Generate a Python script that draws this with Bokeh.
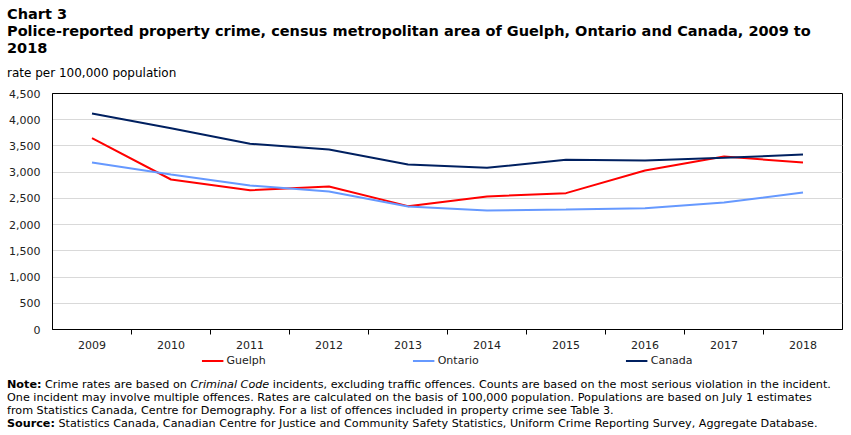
from bokeh.plotting import figure
from bokeh.models import (Div, Legend, LegendItem, FixedTicker, NumeralTickFormatter, Range1d)
from bokeh.layouts import column
from bokeh.embed import file_html
from bokeh.resources import INLINE

years = [2009, 2010, 2011, 2012, 2013, 2014, 2015, 2016, 2017, 2018]
guelph = [3648, 2860, 2657, 2727, 2352, 2536, 2600, 3032, 3299, 3184]
ontario = [3184, 2955, 2746, 2631, 2345, 2269, 2288, 2313, 2421, 2612]
canada = [4119, 3838, 3541, 3432, 3146, 3083, 3235, 3222, 3273, 3337]
y_ticks = [0, 500, 1000, 1500, 2000, 2500, 3000, 3500, 4000, 4500]
series_names = ["Guelph", "Ontario", "Canada"]
series_colors = ["#ff0000", "#6699ff", "#002060"]

FONT = "DejaVu Sans"

title_html = (
    f'<div style="font-family:\'{FONT}\';color:#000;white-space:nowrap;padding-left:7px;">'
    '<div style="font-weight:bold;font-size:14.5px;line-height:17px;padding-top:6px;">'
    'Chart 3<br>Police-reported property crime, census metropolitan area of Guelph, Ontario and Canada, 2009 to<br>2018</div>'
    '<div style="font-size:12px;margin-top:8px;">rate per 100,000 population</div></div>'
)
title_div = Div(text=title_html, width=851, height=80, margin=(0, 0, 0, 0))

p = figure(width=851, height=272, output_backend="svg", toolbar_location=None,
           x_range=Range1d(years[0] - 0.5, years[-1] + 0.5),
           y_range=Range1d(y_ticks[0], y_ticks[-1]),
           min_border_top=13, min_border_left=52, min_border_right=9, min_border_bottom=23)
p.outline_line_color = "#000000"
p.outline_line_width = 1

for vals, c in zip([guelph, ontario, canada], series_colors):
    p.line(years, vals, line_color=c, line_width=2)

p.xgrid.visible = False
p.ygrid.grid_line_color = "#d9d9d9"
p.ygrid.grid_line_width = 1
p.ygrid.ticker = FixedTicker(ticks=y_ticks)

p.yaxis.ticker = FixedTicker(ticks=y_ticks)
p.yaxis.formatter = NumeralTickFormatter(format="0,0")
p.yaxis.major_tick_line_color = None
p.yaxis.minor_tick_line_color = None
p.yaxis.axis_line_color = "#000000"
p.yaxis.major_label_text_font = FONT
p.yaxis.major_label_text_font_size = "11px"
p.yaxis.major_label_text_color = "#222222"
p.yaxis.major_label_standoff = 6

p.xaxis.ticker = FixedTicker(ticks=years, minor_ticks=[y + 0.5 for y in years[:-1]])
p.xaxis.major_tick_line_color = None
p.xaxis.major_tick_out = 0
p.xaxis.major_tick_in = 0
p.xaxis.minor_tick_line_color = "#000000"
p.xaxis.minor_tick_out = 5
p.xaxis.minor_tick_in = 0
p.xaxis.axis_line_color = "#000000"
p.xaxis.major_label_text_font = FONT
p.xaxis.major_label_text_font_size = "11px"
p.xaxis.major_label_text_color = "#222222"
p.xaxis.major_label_standoff = 6

# legend strip below the chart (series plotted out of its visible range; only the legend shows)
lg = figure(width=851, height=26, output_backend="svg", toolbar_location=None,
            x_range=Range1d(0, 1), y_range=Range1d(0, 1),
            min_border_top=0, min_border_left=52, min_border_right=9, min_border_bottom=10)
lg.axis.visible = False
lg.grid.visible = False
lg.outline_line_color = None
items = []
for n, vals, c in zip(series_names, [guelph, ontario, canada], series_colors):
    r = lg.line(years, vals, line_color=c, line_width=2)
    items.append(LegendItem(label=n, renderers=[r]))
legend = Legend(items=items, orientation="horizontal", location="center",
                label_text_font=FONT, label_text_font_size="11px", label_text_color="#222222",
                glyph_width=22, glyph_height=12, label_height=12,
                label_standoff=3, spacing=147, padding=0, margin=0,
                border_line_color=None, background_fill_alpha=0)
lg.add_layout(legend, "center")

note_html = (
    f'<div style="font-family:\'{FONT}\';font-size:11.2px;line-height:13px;color:#000;white-space:nowrap;padding-left:7px;">'
    '<b>Note:</b> Crime rates are based on <i>Criminal Code</i> incidents, excluding traffic offences. '
    'Counts are based on the most serious violation in the incident.<br>'
    'One incident may involve multiple offences. Rates are calculated on the basis of 100,000 population. '
    'Populations are based on July 1 estimates<br>'
    'from Statistics Canada, Centre for Demography. For a list of offences included in property crime see Table 3.<br>'
    '<b>Source:</b> Statistics Canada, Canadian Centre for Justice and Community Safety Statistics, '
    'Uniform Crime Reporting Survey, Aggregate Database.</div>'
)
note_div = Div(text=note_html, width=851, height=57, margin=(0, 0, 0, 0))

layout = column(title_div, p, lg, note_div, spacing=0)
open("out.html", "w").write(file_html(layout, INLINE))
